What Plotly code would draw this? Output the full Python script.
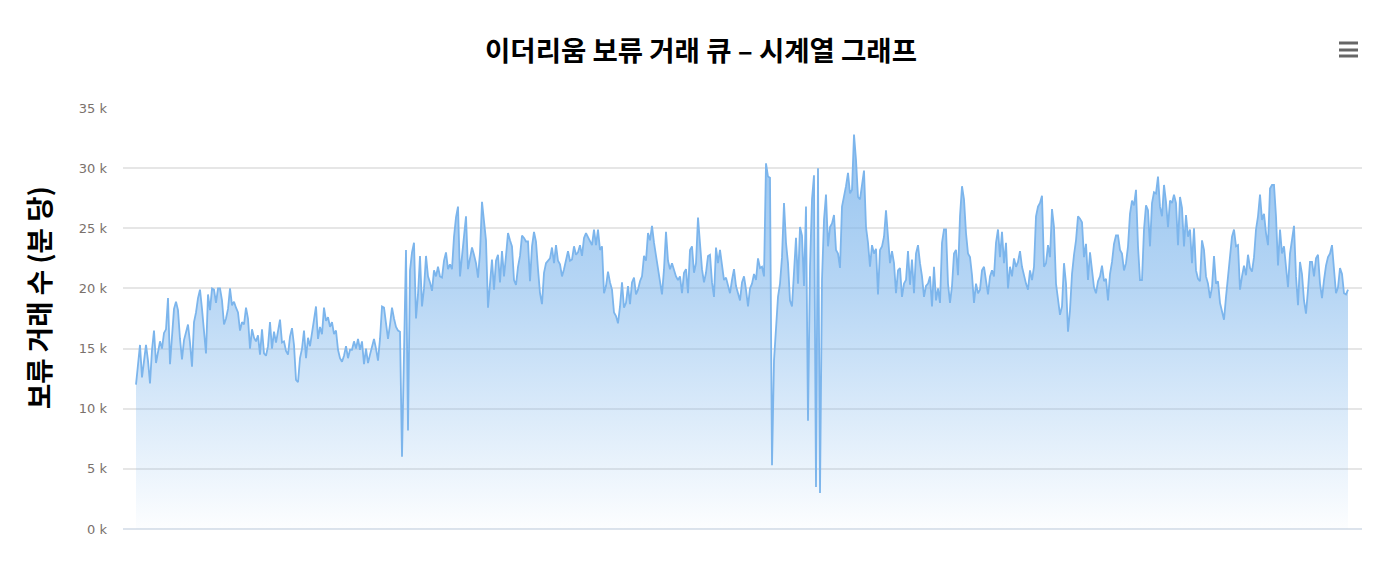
import plotly.graph_objects as go

# pending transactions per minute, in thousands, one reading per sample step
queue_a = [12.0, 14.0, 15.3, 12.6, 13.8, 15.3, 14.0, 12.1, 14.9, 16.5, 13.8, 14.7, 15.6, 15.0, 16.3, 16.6, 19.2, 13.7, 15.8, 18.3,
           18.9, 18.2, 15.8, 14.1, 15.7, 16.4, 17.0, 15.5, 13.5, 17.2, 18.0, 19.2, 19.9, 18.3, 16.6, 14.6, 19.5, 18.2, 20.0, 19.9,
           18.8, 20.0, 20.0, 19.0, 17.0, 17.5, 18.3, 20.0, 18.6, 18.9, 18.4, 18.0, 16.5, 17.2, 17.0, 18.4, 17.5, 15.0, 16.6, 15.9,
           15.6, 16.1, 14.5, 16.6, 14.6, 14.4, 15.2, 17.2, 15.0, 16.4, 15.5, 16.5, 17.4, 15.5, 15.6, 14.8, 14.5, 16.0, 16.7, 15.3,
           12.4, 12.2, 14.2, 15.0, 16.5, 14.2, 15.9, 15.2, 16.2, 17.5, 18.5, 15.8, 16.8, 16.2, 18.4, 17.3, 17.6, 16.8, 17.2, 16.2,
           16.5, 14.9, 14.2, 13.9, 14.4, 15.2, 14.2, 14.9, 14.9, 15.6, 15.0, 15.8, 14.9, 15.6, 13.7, 15.0, 13.8, 14.5, 15.3, 15.8,
           15.0, 14.0, 15.8, 18.5, 18.4, 16.8, 15.8, 17.0, 18.4, 17.5, 16.8, 16.5, 16.4, 6.0, 16.5, 23.2, 8.2, 21.5, 23.0, 23.8,
           17.5, 19.5, 22.7, 18.5, 20.0, 22.7, 21.0, 20.5, 19.8, 21.5, 21.0, 21.8, 21.0]
queue_b = [20.9, 22.3, 23.0, 21.6, 22.0, 21.6, 24.3, 25.9, 26.8, 21.0, 22.5, 24.3, 26.0, 21.6, 22.5, 23.4, 22.8, 22.1, 20.9, 23.0,
           27.2, 25.6, 24.0, 18.4, 20.4, 22.4, 19.9, 22.3, 22.8, 20.5, 23.1, 21.0, 22.7, 24.6, 24.0, 23.5, 20.7, 20.3,
           21.8, 22.7, 24.4, 24.2, 23.9, 23.9, 20.6, 23.5, 24.7, 23.9, 21.6, 19.6, 18.7, 21.3, 22.1, 22.3, 22.5, 23.4, 22.1, 23.6,
           22.3, 22.0, 21.0, 21.6, 22.3, 23.1, 22.3, 22.4, 23.5, 22.8, 23.0, 23.6, 22.7, 24.2, 24.6, 24.3, 24.0, 23.6, 24.9, 23.6,
           24.9, 23.2, 23.5, 19.6, 20.2, 21.4, 20.5, 19.9, 18.0, 17.7, 17.1, 18.5, 20.5, 18.4, 18.8, 20.2, 18.7, 20.5, 20.9, 19.5,
           19.9, 20.6, 21.0, 22.7, 22.3, 24.6, 24.0, 25.2, 23.8, 22.7, 21.7, 20.7, 19.5, 21.6, 24.7, 22.3, 21.6, 22.1, 21.6, 21.0,
           20.7, 21.0, 19.6, 21.3, 21.6, 19.6, 23.2, 23.5, 21.3, 22.1, 25.9, 23.8, 21.6, 20.5, 21.3, 22.7, 22.8, 20.5, 19.3, 23.4,
           22.1, 23.2, 22.1, 20.7, 20.9, 20.2, 19.6, 20.7, 21.6, 20.2, 19.6, 19.0, 20.5, 21.0, 19.9, 18.5]
queue_c = [20.0, 20.4, 21.2, 20.7, 22.5, 21.7, 21.8, 21.0, 30.4, 29.3, 29.2, 5.3, 14.0, 16.3, 19.3, 20.4, 22.6, 27.1, 23.8,
           22.1, 19.0, 18.5, 21.0, 24.2, 20.4, 25.1, 24.4, 20.2, 26.8, 9.0, 21.8, 27.4, 29.4, 3.5, 30.0, 3.0, 20.7, 25.7,
           27.8, 23.5, 25.1, 25.4, 26.1, 23.2, 22.9, 21.7, 26.8, 27.6, 28.5, 29.6, 27.9, 28.2, 32.8, 30.7, 27.6, 27.4,
           28.5, 29.8, 25.1, 23.8, 21.8, 23.6, 22.9, 23.3, 19.5, 23.2, 23.5, 24.3, 26.5, 24.3, 22.1, 23.1, 22.1, 19.6, 21.5, 21.7,
           19.3, 20.4, 20.7, 23.1, 20.3, 22.4, 19.6, 22.9, 23.6, 22.1, 21.0, 19.3, 20.2, 20.4, 21.0, 18.5, 21.8, 19.0, 20.0,
           18.8, 23.8, 24.9, 24.9, 20.4, 18.8, 20.2, 22.9, 23.2, 21.1, 26.0, 28.5, 27.4, 24.6, 22.9, 22.6, 21.1, 18.8, 20.4, 19.6,
           19.9, 21.5, 21.8, 20.4, 19.5, 21.0, 21.5, 21.0, 23.8, 24.9, 22.6, 24.7, 22.1, 23.8, 20.0, 21.8, 21.0, 22.5, 21.8, 22.2,
           23.1, 21.8, 21.0, 20.4, 19.9, 21.5, 20.7, 21.8, 26.0, 26.8, 27.1, 27.7, 21.8, 22.1, 23.6, 22.6, 26.6, 25.1, 20.4, 18.8, 17.8]
queue_d = [18.5, 22.1, 20.4, 16.4, 18.2, 21.2, 22.8, 24.0, 26.0, 25.8, 25.5, 22.6, 23.7, 20.7, 23.0, 21.7, 20.1, 19.6, 20.6, 21.0,
           21.9, 20.6, 20.8, 19.0, 21.2, 22.2, 23.7, 24.4, 24.4, 23.2, 22.9, 21.5, 22.1, 23.5, 26.2, 27.3, 26.9, 28.2, 23.5,
           20.7, 20.7, 24.9, 26.9, 26.5, 23.5, 27.1, 28.0, 27.9, 29.3, 26.8, 26.0, 28.6, 27.2, 25.1, 27.3, 27.1, 27.8, 27.1, 23.6,
           27.6, 26.7, 23.5, 26.1, 24.3, 24.9, 22.1, 25.0, 21.5, 20.8, 20.6, 24.0, 23.2, 21.0, 20.4, 19.2, 20.1, 22.7, 20.4, 20.6,
           18.8, 18.2, 17.4, 19.3, 21.2, 22.9, 24.3, 24.9, 23.5, 23.6, 19.9, 21.0, 21.9, 21.1, 22.8, 21.7, 21.4, 22.6, 24.9,
           26.0, 27.8, 25.7, 26.2, 24.6, 23.6, 28.3, 28.6, 28.6, 26.0, 21.9, 24.9, 22.9, 23.5, 21.8, 20.1, 22.9, 24.2, 25.2, 21.0,
           18.6, 22.2, 21.2, 19.0, 17.9, 19.9, 22.2, 22.2, 21.0, 22.5, 22.8, 20.4, 19.2, 20.7, 21.9, 22.6, 22.9, 23.6, 21.2,
           19.6, 20.1, 21.7, 21.2, 19.6, 19.5, 19.9]

queue_k = queue_a + queue_b + queue_c + queue_d
samples = list(range(len(queue_k)))

y_ticks = [0, 5, 10, 15, 20, 25, 30, 35]
y_labels = ["0 k", "5 k", "10 k", "15 k", "20 k", "25 k", "30 k", "35 k"]

title_text = "이더리움 보류 거래 큐 – 시계열 그래프"
y_title = "보류 거래 수 (분 당)"

kr_font = "Noto Sans CJK KR"
line_color = "#7cb5ec"

# first and last point sit 13 px inside the plot area
step = 1212 / (len(samples) - 1)
x_range = [-13 / step, samples[-1] + 14 / step]

fig = go.Figure()
fig.add_trace(go.Scatter(
    x=samples,
    y=queue_k,
    mode="lines",
    line=dict(color=line_color, width=1.8),
    fill="tozeroy",
    fillgradient=dict(
        type="vertical",
        colorscale=[[0, "rgba(124,181,236,0.02)"], [0.6, "rgba(124,181,236,0.55)"], [1, "rgba(124,181,236,0.8)"]],
    ),
    showlegend=False,
))

fig.update_layout(
    width=1400,
    height=582,
    autosize=False,
    margin=dict(l=123, r=38, t=108, b=53),
    paper_bgcolor="white",
    plot_bgcolor="white",
    title=dict(
        text="<b>" + title_text + "</b>",
        x=701 / 1400,
        xanchor="center",
        y=1 - 51 / 582,
        yanchor="middle",
        font=dict(family=kr_font, size=27.5, color="black"),
    ),
    xaxis=dict(visible=False, range=x_range),
    yaxis=dict(
        range=[0, 35],
        tickvals=y_ticks,
        ticktext=y_labels,
        ticks="",
        ticklabelstandoff=15,
        tickfont=dict(family="DejaVu Sans", size=13, color="#7a716c"),
        gridcolor="#e6e6e6",
        gridwidth=1.5,
        zeroline=True,
        zerolinecolor="#dce3ec",
        zerolinewidth=2,
    ),
    annotations=[dict(
        text="<b>" + y_title + "</b>",
        xref="paper",
        yref="paper",
        x=-85 / 1239,
        xanchor="center",
        yanchor="middle",
        y=(529 - 298) / 421,
        textangle=-90,
        showarrow=False,
        font=dict(family=kr_font, size=27.5, color="black"),
    )],
)

# menu icon, three bars top right
for bar_y in [43, 50, 56]:
    fig.add_shape(
        type="line",
        xref="paper",
        yref="paper",
        x0=(1339 - 123) / 1239,
        x1=(1358 - 123) / 1239,
        y0=(529 - bar_y) / 421,
        y1=(529 - bar_y) / 421,
        line=dict(color="#666666", width=3),
    )

fig.write_html("out.html", config={"displayModeBar": False}, post_script="document.body.style.margin='0';")
